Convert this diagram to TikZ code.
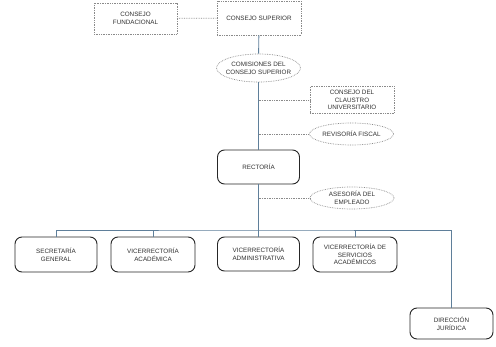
\documentclass[tikz,border=0pt]{standalone}
\usepackage{fontspec}
\setmainfont{Liberation Sans}
\usetikzlibrary{positioning,shapes.geometric,calc}
\definecolor{clinea}{HTML}{5F7F9A}
\definecolor{cpunto}{HTML}{8A8A8A}
\definecolor{ctexto}{HTML}{303030}
\tikzset{
  etq/.style={font=\fontsize{6.3}{7.8}\selectfont, text=ctexto, align=center, inner sep=0pt},
  caja/.style={rectangle, rounded corners=7pt, draw=black!85, line width=0.9pt,
    minimum width=82pt, minimum height=34pt, etq},
  cajap/.style={rectangle, draw=cpunto, line width=0.7pt, dash pattern=on 0.7pt off 1pt,
    minimum width=84pt, minimum height=30pt, etq},
  ovalo/.style={ellipse, draw=cpunto, line width=0.7pt, dash pattern=on 0.7pt off 1pt,
    minimum width=84pt, minimum height=24pt, inner sep=0pt},
  linea/.style={draw=clinea, line width=0.9pt},
  punteada/.style={draw=cpunto, line width=0.7pt, dash pattern=on 0.7pt off 1pt},
}
\begin{document}
\begin{tikzpicture}[x=1pt, y=-1pt]
  \useasboundingbox[fill=white] (0,0) rectangle (496,347);
  \node[cajap, minimum width=83pt, minimum height=31pt] (fund) at (135.5,18.5) {CONSEJO\\FUNDACIONAL};
  \node[cajap, minimum height=34pt] (sup) at (259,18) {CONSEJO SUPERIOR};
  \node[ovalo, minimum height=28pt] (com) at (258.5,68) {};
  \node[etq] (com-t) at (com) {COMISIONES DEL\\CONSEJO SUPERIOR};
  \node[cajap, minimum height=27pt] (claus) at (352,100) {CONSEJO DEL\\CLAUSTRO\\UNIVERSITARIO};
  \node[ovalo, minimum height=22pt] (rev) at (351.5,134) {};
  \node[etq] (rev-t) at (rev) {REVISORÍA FISCAL};
  \node[caja] (rect) at (258.5,167) {RECTORÍA};
  \node[ovalo, minimum height=22pt] (ases) at (352,198) {};
  \node[etq] (ases-t) at (ases) {ASESORÍA DEL\\EMPLEADO};
  \node[caja, minimum height=35pt] (sec) at (56,254.5) {SECRETARÍA\\GENERAL};
  \node[caja, minimum width=84pt, minimum height=35pt] (vac) at (153,254.5) {VICERRECTORÍA\\ACADÉMICA};
  \node[caja] (vad) at (258.5,254) {VICERRECTORÍA\\ADMINISTRATIVA};
  \node[caja, minimum width=84pt, minimum height=35pt] (vsa) at (355,254.5) {VICERRECTORÍA DE\\SERVICIOS\\ACADÉMICOS};
  \node[caja, minimum width=83pt, minimum height=31pt] (dir) at (451.5,323.5) {DIRECCIÓN\\JURÍDICA};
  \coordinate (bus) at (258.5,230);
  \draw[punteada] (fund) -- (sup);
  \draw[linea] (sup) -- (com);
  \draw[linea] (com) -- (rect);
  \draw[punteada] (claus.west -| rect.north) -- (claus.west);
  \draw[punteada] (rev.west -| rect.north) -- (rev.west);
  \draw[punteada] (ases.west -| rect.north) -- (ases.west);
  \draw[linea] (rect) -- (vad);
  \draw[linea] (sec.north) |- (bus) -| (dir.north);
  \draw[linea] (vac.north) -- (vac.north |- bus);
  \draw[linea] (vsa.north) -- (vsa.north |- bus);
\end{tikzpicture}
\end{document}
